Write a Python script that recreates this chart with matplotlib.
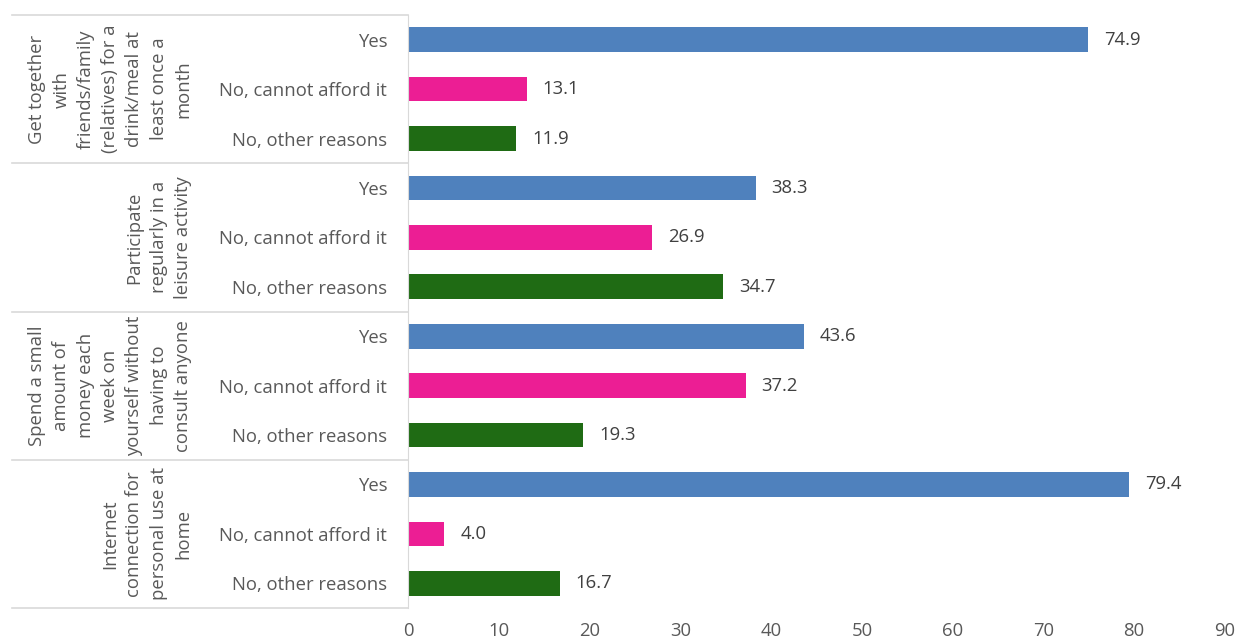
import matplotlib
matplotlib.use('Agg')
from matplotlib import pyplot as plt
from matplotlib.lines import Line2D
import numpy as np

plt.rcParams['font.family'] = ['Open Sans', 'DejaVu Sans']

groups = [
    "Get together\nwith\nfriends/family\n(relatives) for a\ndrink/meal at\nleast once a\nmonth",
    "Participate\nregularly in a\nleisure activity",
    "Spend a small\namount of\nmoney each\nweek on\nyourself without\nhaving to\nconsult anyone",
    "Internet\nconnection for\npersonal use at\nhome",
]
answers = ["Yes", "No, cannot afford it", "No, other reasons"]
yes_vals = [74.9, 38.3, 43.6, 79.4]
cannot_vals = [13.1, 26.9, 37.2, 4.0]
other_vals = [11.9, 34.7, 19.3, 16.7]
colors = ["#4F81BD", "#EC1E94", "#1F6B14"]

W, H = 1239, 644
fs = 13.3
fig = plt.figure(figsize=(W / 100, H / 100), dpi=100)
left, right, top, bottom = 408, 1225, 15, 608
ax = fig.add_axes([left / W, 1 - bottom / H, (right - left) / W, (bottom - top) / H])

series = [yes_vals, cannot_vals, other_vals]
ypos, vals, cols, labels = [], [], [], []
for g in range(len(groups)):
    for i in range(3):
        ypos.append(g * 3 + i)
        vals.append(series[i][g])
        cols.append(colors[i])
        labels.append(answers[i])

ax.barh(ypos, vals, height=0.5, color=cols)
for y, v in zip(ypos, vals):
    ax.text(v + 1.75, y, f"{v:.1f}", va='center', ha='left', fontsize=fs, color='#404040')

ax.set_xlim(0, 90)
ax.set_ylim(11.5, -0.5)
ax.set_xticks(np.arange(0, 91, 10))
ax.set_yticks(ypos)
ax.set_yticklabels(labels)
ax.tick_params(axis='both', length=0, labelsize=fs, labelcolor='#595959')
ax.tick_params(axis='y', pad=15)
ax.tick_params(axis='x', pad=10)
for s in ['top', 'right', 'bottom']:
    ax.spines[s].set_visible(False)
ax.spines['left'].set_color('#D9D9D9')

# group separators and labels
for g in range(len(groups) + 1):
    yb = top + g * (bottom - top) / 4
    fig.add_artist(Line2D([12 / W, left / W], [1 - yb / H, 1 - yb / H],
                          color='#D9D9D9', lw=1.2))
for g, name in enumerate(groups):
    yc = top + (g + 0.5) * (bottom - top) / 4
    fig.text(192 / W, 1 - yc / H, name, rotation=90, ha='right', va='center',
             multialignment='center', fontsize=fs, color='#595959', linespacing=1.45)

plt.savefig("out.png", dpi=100)
